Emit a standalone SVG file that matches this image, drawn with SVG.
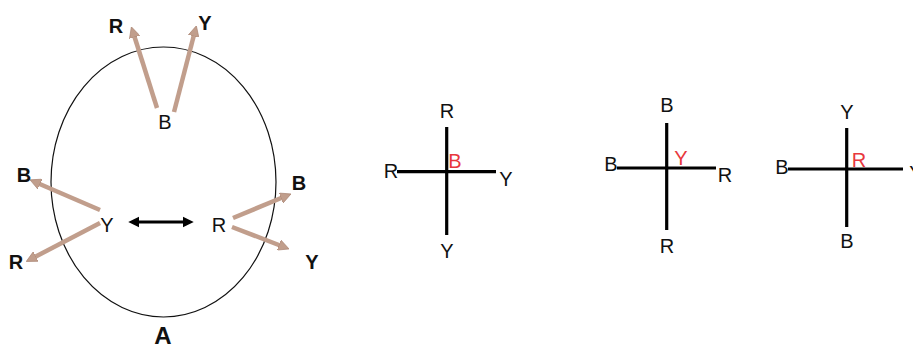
<svg xmlns="http://www.w3.org/2000/svg" width="913" height="349" viewBox="0 0 913 349">
<defs>
<marker id="tanHead" viewBox="0 0 10 10" refX="5" refY="5" markerWidth="2.4" markerHeight="2.4" orient="auto" markerUnits="strokeWidth">
<path d="M0,0 L10,5 L0,10 z" fill="#c19e8c" stroke="#a88270" stroke-width="0.6"/>
</marker>
<marker id="blkHead" viewBox="0 0 10 10" refX="4" refY="5" markerWidth="4" markerHeight="4" orient="auto-start-reverse" markerUnits="strokeWidth">
<path d="M0,0 L10,5 L0,10 z" fill="#000"/>
</marker>
</defs>
<style>
.t{font-family:"Liberation Sans","DejaVu Sans",sans-serif;font-size:20px;fill:#111;text-anchor:middle}
.b{font-weight:bold}
.red{fill:#e8383d}
.tan{stroke:#c19e8c;stroke-width:4.5;fill:none;marker-end:url(#tanHead)}
.ax{stroke:#000;stroke-width:3.2;fill:none}
</style>
<rect width="913" height="349" fill="#fff"/>
<g id="cell">
<ellipse cx="163.5" cy="182" rx="112.5" ry="135" fill="none" stroke="#111" stroke-width="1.2"/>
</g>
<g id="connectors">
<line class="tan" x1="157" y1="108" x2="133" y2="32"/>
<line class="tan" x1="174" y1="112" x2="195" y2="31"/>
<line class="tan" x1="100" y1="210" x2="35" y2="182"/>
<line class="tan" x1="100" y1="223" x2="31" y2="259"/>
<line class="tan" x1="233" y1="218" x2="286" y2="196"/>
<line class="tan" x1="232" y1="227" x2="284" y2="247"/>
<line x1="135" y1="222" x2="187" y2="222" stroke="#000" stroke-width="2.8" marker-start="url(#blkHead)" marker-end="url(#blkHead)"/>
</g>
<g id="labelsA">
<text class="t b" x="116" y="33">R</text>
<text class="t b" x="205" y="30">Y</text>
<text class="t" x="165" y="129">B</text>
<text class="t b" x="24" y="182">B</text>
<text class="t b" x="16" y="269">R</text>
<text class="t" x="107" y="232">Y</text>
<text class="t" x="219" y="232">R</text>
<text class="t b" x="299" y="190">B</text>
<text class="t b" x="312" y="269">Y</text>
<text class="t b" x="163" y="344" style="font-size:24px">A</text>
</g>
<g id="cross1">
<line class="ax" x1="446.7" y1="127" x2="446.7" y2="235"/>
<line class="ax" x1="397" y1="171.7" x2="496" y2="171.7"/>
<text class="t" x="447" y="118">R</text>
<text class="t" x="391" y="178">R</text>
<text class="t" x="506" y="186">Y</text>
<text class="t" x="447" y="258">Y</text>
<text class="t red" x="455" y="168">B</text>
</g>
<g id="cross2">
<line class="ax" x1="666.7" y1="123" x2="666.7" y2="230"/>
<line class="ax" x1="617" y1="168" x2="716" y2="168"/>
<text class="t" x="667" y="112">B</text>
<text class="t" x="611" y="171">B</text>
<text class="t" x="725" y="182">R</text>
<text class="t" x="667" y="253">R</text>
<text class="t red" x="681" y="165">Y</text>
</g>
<g id="cross3">
<line class="ax" x1="846.7" y1="128" x2="846.7" y2="227"/>
<line class="ax" x1="788" y1="169" x2="903" y2="169"/>
<text class="t" x="847" y="119">Y</text>
<text class="t" x="782" y="174">B</text>
<text class="t" x="847" y="248">B</text>
<text class="t" x="916" y="180">Y</text>
<text class="t red" x="859" y="167">R</text>
</g>
</svg>
